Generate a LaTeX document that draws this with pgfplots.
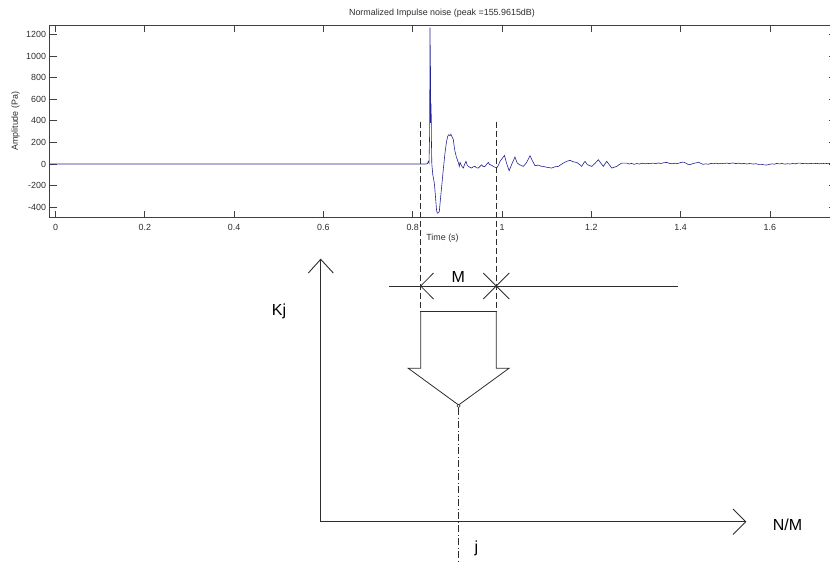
\documentclass[border=0pt]{standalone}
\usepackage{pgfplots}
\pgfplotsset{compat=1.18}
\usepackage{fontspec}
\setmainfont{Liberation Sans}

\definecolor{trace}{RGB}{35,35,150}
\definecolor{axisgray}{RGB}{64,64,64}
\definecolor{ink}{RGB}{45,45,45}

% Normalized impulse recording: time (s), pressure (Pa)
\pgfplotstableread{
t v
-0.0134 0
0.8300 0
0.8330 5
0.8350 25
0.8365 10
0.8380 300
0.8387 1262
0.8392 800
0.8396 1100
0.8400 540
0.8405 380
0.8412 560
0.8420 200
0.8428 0
0.8450 -100
0.8484 -176
0.8510 -300
0.8535 -430
0.8552 -455
0.8575 -450
0.8596 -440
0.8620 -330
0.8649 -207
0.8690 -30
0.8723 102
0.8755 200
0.8783 256
0.8810 272
0.8835 262
0.8855 275
0.8873 258
0.8895 240
0.8910 226
0.8930 160
0.8947 117
0.8975 70
0.9000 40
0.9025 10
0.9044 -22
0.9060 15
0.9074 3
0.9100 -20
0.9134 -37
0.9165 0
0.9194 25
0.9220 -10
0.9246 -22
0.9280 -30
0.9321 -37
0.9360 -25
0.9395 -22
0.9430 -35
0.9470 -37
0.9510 -20
0.9545 -7
0.9580 -25
0.9619 -22
0.9660 0
0.9694 15
0.9720 -5
0.9746 -7
0.9780 -15
0.9806 -22
0.9845 -30
0.9880 -37
0.9920 -10
0.9955 25
1.0055 80
1.0100 10
1.0160 -62
1.0220 0
1.0290 65
1.0340 10
1.0388 -6
1.0440 -15
1.0478 -22
1.0552 15
1.0627 77
1.0680 30
1.0739 -15
1.0814 -10
1.0870 -20
1.0925 -22
1.1000 -30
1.1112 -37
1.1190 -25
1.1262 -22
1.1320 -5
1.1374 9
1.1450 25
1.1523 34
1.1600 20
1.1673 15
1.1740 -5
1.1785 -22
1.1830 10
1.1859 25
1.1911 -6
1.2009 -22
1.2080 5
1.2157 40
1.2210 10
1.2269 -22
1.2345 25
1.2400 -5
1.2457 -37
1.2510 -30
1.2569 -22
1.2625 -5
1.2681 9
1.2740 9
1.2793 9
1.2850 0
1.2900 6
1.2960 -3
1.3020 5
1.3080 0
1.3140 8
1.3200 2
1.3260 6
1.3315 3
1.3380 9
1.3440 4
1.3500 10
1.3560 5
1.3620 12
1.3688 15
1.3750 6
1.3810 2
1.3870 8
1.3930 4
1.4000 14
1.4060 18
1.4120 8
1.4160 -2
1.4210 -6
1.4260 2
1.4310 8
1.4360 12
1.4397 18
1.4450 6
1.4509 -3
1.4560 2
1.4620 -2
1.4680 6
1.4733 3
1.4790 8
1.4850 2
1.4910 7
1.4970 3
1.5030 9
1.5090 4
1.5150 10
1.5180 9
1.5240 4
1.5300 8
1.5360 2
1.5420 6
1.5480 0
1.5540 5
1.5628 0
1.5690 3
1.5750 -4
1.5810 -2
1.5870 -8
1.5928 -9
1.5990 -3
1.6050 2
1.6100 -2
1.6150 6
1.6210 1
1.6270 5
1.6330 -1
1.6390 3
1.6450 0
1.6510 5
1.6570 2
1.6630 8
1.6670 9
1.6730 4
1.6790 7
1.6850 2
1.6910 6
1.6970 3
1.7050 6
1.7110 2
1.7170 7
1.7230 3
1.7290 6
1.7350 5
1.7480 4
}\impulse

\begin{document}
\begin{tikzpicture}
\begin{axis}[
  scale only axis,
  width=786.5pt, height=192.5pt,
  at={(49.5pt,-217.5pt)}, anchor=south west,
  xmin=-0.0134, xmax=1.7480,
  ymin=-495, ymax=1287,
  xtick={0,0.2,0.4,0.6,0.8,1,1.2,1.4,1.6},
  ytick={-400,-200,0,200,400,600,800,1000,1200},
  tick align=inside,
  major tick length=7pt,
  axis line style={axisgray, line width=0.8pt},
  tick style={axisgray, line width=0.8pt},
  /pgf/number format/assume math mode=true,
  /pgf/number format/1000 sep={},
  ticklabel style={font=\fontsize{8.9}{10}\selectfont, text=ink},
  xticklabel style={yshift=-3pt},
  every axis title shift=0pt,
  title={Normalized Impulse noise (peak =155.9615dB)},
  title style={at={(axis description cs:0.4990,1.062)}, anchor=center,
               font=\fontsize{8.9}{10}\selectfont, text=ink},
  xlabel={Time (s)},
  xlabel style={at={(axis description cs:0.4997,-0.108)}, anchor=center,
                font=\fontsize{8.9}{10}\selectfont, text=ink},
  ylabel={Amplitude (Pa)},
  ylabel style={at={(axis description cs:-0.0430,0.5)}, anchor=center,
                font=\fontsize{8.9}{10}\selectfont, text=ink},
]
\addplot[trace, line width=0.6pt] table[x=t, y=v] {\impulse};
\end{axis}

% Schematic of the moving window below the recording (units: px, y downwards)
\begin{scope}[x=1pt, y=-1pt, line cap=butt]
  % window edges
  \draw[ink, line width=0.9pt, dash pattern=on 6pt off 3pt] (420.7,121.7) -- (420.7,311.7);
  \draw[ink, line width=0.9pt, dash pattern=on 6pt off 3pt] (496.3,121.7) -- (496.3,311.7);
  % time line with window markers
  \draw[ink, line width=0.8pt] (389.3,286) -- (678.3,286);
  \draw[ink, line width=0.8pt] (433.5,273) -- (420.7,286) -- (433.5,299);
  \draw[ink, line width=0.8pt] (483.3,273) -- (509.3,299);
  \draw[ink, line width=0.8pt] (483.3,299) -- (509.3,273);
  \node[text=black, font=\fontsize{16}{16}\selectfont] at (458.3,277) {M};
  % block arrow
  \draw[ink, line width=0.8pt] (420.7,311.7) -- (496.3,311.7);
  \draw[ink, line width=0.8pt, line join=miter]
    (420.7,311.7) -- (420.7,368.3) -- (408.3,368.3) -- (458.6,405)
    -- (509,368.3) -- (496.3,368.3) -- (496.3,311.7);
  \draw[ink, line width=0.6pt, fill=white] (458.6,406) circle (1.6pt);
  % centre line
  \draw[ink, line width=0.7pt, dash pattern=on 7pt off 2.5pt on 1pt off 2.5pt]
    (458.4,408) -- (458.4,566);
  % Kj versus N/M axes
  \draw[ink, line width=0.9pt] (320.7,521.7) -- (320.7,259.3);
  \draw[ink, line width=0.9pt] (308.3,273) -- (320.7,259.3) -- (333.3,273);
  \draw[ink, line width=0.9pt] (320.7,521.7) -- (745.7,521.7);
  \draw[ink, line width=0.9pt] (733,509) -- (745.7,521.7) -- (733,534.5);
  \node[text=black, font=\fontsize{16}{16}\selectfont] at (279,311.7) {Kj};
  \node[text=black, font=\fontsize{16}{16}\selectfont] at (787.5,524.5) {N/M};
  \node[text=black, font=\fontsize{16}{16}\selectfont] at (476.4,548) {j};
\end{scope}

\pgfresetboundingbox
\path[use as bounding box] (0pt,0pt) rectangle (830pt,-563pt);
\end{tikzpicture}
\end{document}
